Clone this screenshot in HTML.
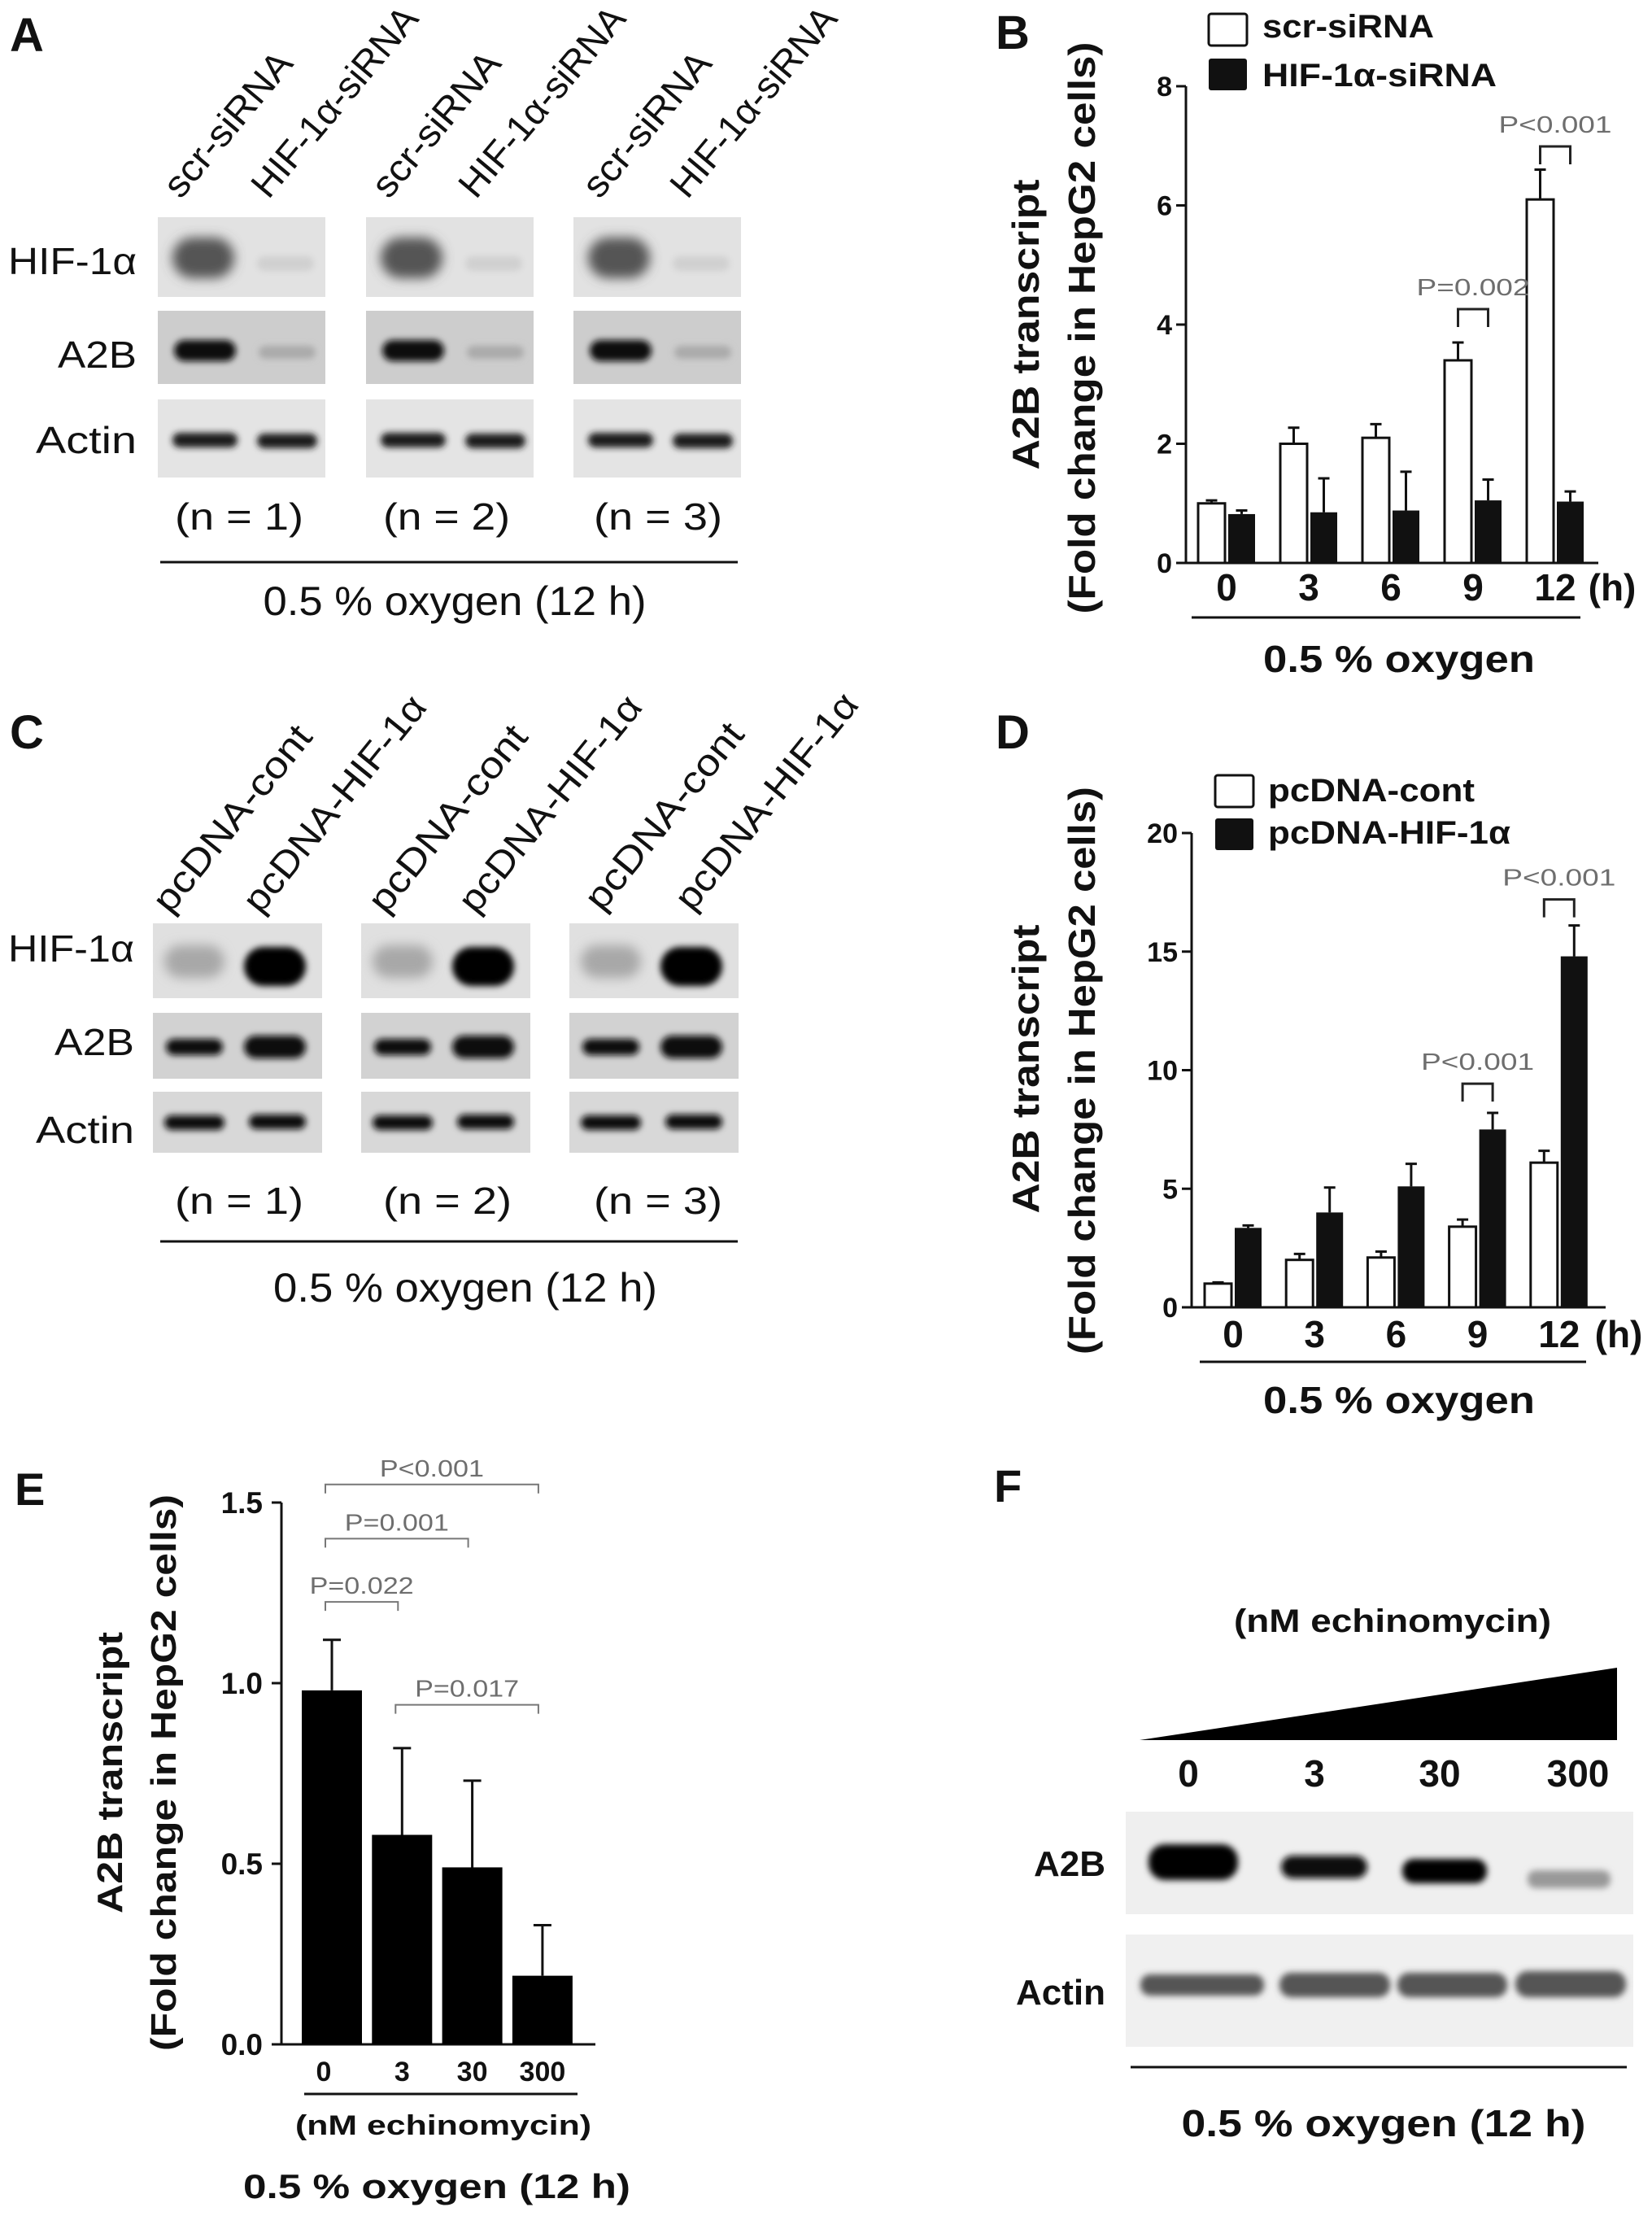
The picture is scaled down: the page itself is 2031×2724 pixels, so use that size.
<!DOCTYPE html>
<html><head><meta charset="utf-8"><style>
html,body{margin:0;padding:0;background:#fff;}
svg{display:block;}
.b{font-family:"Liberation Sans",sans-serif;font-weight:bold;fill:#111;}
.n{font-family:"Liberation Sans",sans-serif;fill:#111;}
.p{font-family:"Liberation Sans",sans-serif;fill:#6e6e6e;font-size:29px;}
</style></head><body>
<svg id="fig" width="2031" height="2724" viewBox="0 0 2031 2724" xmlns="http://www.w3.org/2000/svg">
<defs>
<filter id="bl" x="-30%" y="-60%" width="160%" height="220%"><feGaussianBlur stdDeviation="4"/></filter>
<filter id="bl2" x="-30%" y="-60%" width="160%" height="220%"><feGaussianBlur stdDeviation="7"/></filter>
</defs>

<!-- Panel A -->
<g>
<text class="b" x="12" y="63" font-size="58">A</text>
<g class="n" font-size="46">
<text transform="translate(222,246) rotate(-50)" textLength="218" lengthAdjust="spacingAndGlyphs">scr-siRNA</text>
<text transform="translate(330,246) rotate(-50)" textLength="290" lengthAdjust="spacingAndGlyphs">HIF-1α-siRNA</text>
<text transform="translate(478,246) rotate(-50)" textLength="218" lengthAdjust="spacingAndGlyphs">scr-siRNA</text>
<text transform="translate(585,246) rotate(-50)" textLength="290" lengthAdjust="spacingAndGlyphs">HIF-1α-siRNA</text>
<text transform="translate(737,246) rotate(-50)" textLength="218" lengthAdjust="spacingAndGlyphs">scr-siRNA</text>
<text transform="translate(845,246) rotate(-50)" textLength="290" lengthAdjust="spacingAndGlyphs">HIF-1α-siRNA</text>
</g>
<g class="n" font-size="46" text-anchor="end">
<text x="168" y="337" textLength="158" lengthAdjust="spacingAndGlyphs">HIF-1α</text>
<text x="168" y="452" textLength="97" lengthAdjust="spacingAndGlyphs">A2B</text>
<text x="168" y="557" textLength="124" lengthAdjust="spacingAndGlyphs">Actin</text>
</g>
<g id="blotsA"></g>
<g class="n" font-size="46" text-anchor="middle">
<text x="294" y="651" textLength="158" lengthAdjust="spacingAndGlyphs">(n = 1)</text>
<text x="549" y="651" textLength="156" lengthAdjust="spacingAndGlyphs">(n = 2)</text>
<text x="809" y="651" textLength="158" lengthAdjust="spacingAndGlyphs">(n = 3)</text>
</g>
<line x1="197" y1="691" x2="907" y2="691" stroke="#111" stroke-width="3"/>
<text class="n" x="559" y="756" font-size="50" text-anchor="middle" textLength="471" lengthAdjust="spacingAndGlyphs">0.5 % oxygen (12 h)</text>
</g>

<!-- Panel C -->
<g>
<text class="b" x="12" y="920" font-size="58">C</text>
<g class="n" font-size="46">
<text transform="translate(209,1125) rotate(-51)" textLength="281" lengthAdjust="spacingAndGlyphs">pcDNA-cont</text>
<text transform="translate(320,1125) rotate(-51)" textLength="328" lengthAdjust="spacingAndGlyphs">pcDNA-HIF-1α</text>
<text transform="translate(474,1125) rotate(-51)" textLength="281" lengthAdjust="spacingAndGlyphs">pcDNA-cont</text>
<text transform="translate(585,1125) rotate(-51)" textLength="328" lengthAdjust="spacingAndGlyphs">pcDNA-HIF-1α</text>
<text transform="translate(740,1122) rotate(-51)" textLength="281" lengthAdjust="spacingAndGlyphs">pcDNA-cont</text>
<text transform="translate(851,1122) rotate(-51)" textLength="328" lengthAdjust="spacingAndGlyphs">pcDNA-HIF-1α</text>
</g>
<g class="n" font-size="46" text-anchor="end">
<text x="165" y="1182" textLength="155" lengthAdjust="spacingAndGlyphs">HIF-1α</text>
<text x="165" y="1297" textLength="98" lengthAdjust="spacingAndGlyphs">A2B</text>
<text x="165" y="1405" textLength="121" lengthAdjust="spacingAndGlyphs">Actin</text>
</g>
<g id="blotsC"></g>
<g class="n" font-size="46" text-anchor="middle">
<text x="294" y="1492" textLength="158" lengthAdjust="spacingAndGlyphs">(n = 1)</text>
<text x="550" y="1492" textLength="158" lengthAdjust="spacingAndGlyphs">(n = 2)</text>
<text x="809" y="1492" textLength="158" lengthAdjust="spacingAndGlyphs">(n = 3)</text>
</g>
<line x1="197" y1="1526" x2="907" y2="1526" stroke="#111" stroke-width="3"/>
<text class="n" x="572" y="1600" font-size="50" text-anchor="middle" textLength="472" lengthAdjust="spacingAndGlyphs">0.5 % oxygen (12 h)</text>
</g>

<!-- Panel B -->
<g id="panelB">
<text class="b" x="1224" y="60" font-size="58">B</text>
<rect x="1486" y="17" width="47" height="39" rx="3" fill="#fff" stroke="#111" stroke-width="3"/>
<rect x="1486" y="72" width="47" height="39" rx="3" fill="#111"/>
<text class="b" x="1552" y="46" font-size="40" textLength="211" lengthAdjust="spacingAndGlyphs">scr-siRNA</text>
<text class="b" x="1552" y="106" font-size="40" textLength="288" lengthAdjust="spacingAndGlyphs">HIF-1α-siRNA</text>
<text class="b" font-size="46" text-anchor="middle" transform="translate(1277,399) rotate(-90)" textLength="357" lengthAdjust="spacingAndGlyphs">A2B transcript</text>
<text class="b" font-size="46" text-anchor="middle" transform="translate(1346,403) rotate(-90)" textLength="703" lengthAdjust="spacingAndGlyphs">(Fold change in HepG2 cells)</text>
<line x1="1465" y1="759" x2="1943" y2="759" stroke="#111" stroke-width="3"/>
<text class="b" x="1720" y="826" font-size="46" text-anchor="middle" textLength="334" lengthAdjust="spacingAndGlyphs">0.5 % oxygen</text>
<text class="b" x="1982" y="738" font-size="46" text-anchor="middle">(h)</text>
</g>

<!-- Panel D -->
<g id="panelD">
<text class="b" x="1224" y="920" font-size="58">D</text>
<rect x="1494" y="953" width="47" height="39" rx="3" fill="#fff" stroke="#111" stroke-width="3"/>
<rect x="1494" y="1006" width="47" height="39" rx="3" fill="#111"/>
<text class="b" x="1559" y="985" font-size="40" textLength="254" lengthAdjust="spacingAndGlyphs">pcDNA-cont</text>
<text class="b" x="1559" y="1037" font-size="40" textLength="298" lengthAdjust="spacingAndGlyphs">pcDNA-HIF-1α</text>
<text class="b" font-size="46" text-anchor="middle" transform="translate(1277,1314) rotate(-90)" textLength="355" lengthAdjust="spacingAndGlyphs">A2B transcript</text>
<text class="b" font-size="46" text-anchor="middle" transform="translate(1346,1316) rotate(-90)" textLength="698" lengthAdjust="spacingAndGlyphs">(Fold change in HepG2 cells)</text>
<line x1="1475" y1="1674" x2="1950" y2="1674" stroke="#111" stroke-width="3"/>
<text class="b" x="1720" y="1737" font-size="46" text-anchor="middle" textLength="334" lengthAdjust="spacingAndGlyphs">0.5 % oxygen</text>
<text class="b" x="1990" y="1656" font-size="46" text-anchor="middle">(h)</text>
</g>

<!-- Panel E -->
<g id="panelE">
<text class="b" x="18" y="1850" font-size="56">E</text>
<text class="b" font-size="44" text-anchor="middle" transform="translate(150,2179) rotate(-90)" textLength="346" lengthAdjust="spacingAndGlyphs">A2B transcript</text>
<text class="b" font-size="44" text-anchor="middle" transform="translate(216,2179) rotate(-90)" textLength="684" lengthAdjust="spacingAndGlyphs">(Fold change in HepG2 cells)</text>
<line x1="374" y1="2574" x2="710" y2="2574" stroke="#111" stroke-width="3"/>
<text class="b" x="545" y="2624" font-size="34" text-anchor="middle" textLength="364" lengthAdjust="spacingAndGlyphs">(nM echinomycin)</text>
<text class="b" x="537" y="2702" font-size="42" text-anchor="middle" textLength="476" lengthAdjust="spacingAndGlyphs">0.5 % oxygen (12 h)</text>
</g>

<!-- Panel F -->
<g>
<text class="b" x="1222" y="1846" font-size="56">F</text>
<text class="b" x="1712" y="2006" font-size="40" text-anchor="middle" textLength="390" lengthAdjust="spacingAndGlyphs">(nM echinomycin)</text>
<polygon points="1401,2139 1988,2050 1988,2139" fill="#000"/>
<g class="b" font-size="46" text-anchor="middle">
<text x="1461" y="2196">0</text>
<text x="1616" y="2196">3</text>
<text x="1770" y="2196">30</text>
<text x="1940" y="2196">300</text>
</g>
<text class="b" x="1359" y="2306" font-size="44" text-anchor="end">A2B</text>
<text class="b" x="1359" y="2464" font-size="44" text-anchor="end">Actin</text>
<g>
<rect x="1384" y="2227" width="624" height="126" fill="#efefef"/>
<g filter="url(#bl)">
<rect x="1412" y="2267" width="110" height="44" rx="20" fill="#000"/>
<rect x="1575" y="2281" width="106" height="28" rx="14" fill="#0a0a0a"/>
<rect x="1724" y="2285" width="104" height="30" rx="14" fill="#050505"/>
<rect x="1878" y="2299" width="102" height="22" rx="10" fill="#999"/>
</g></g>
<g>
<rect x="1384" y="2378" width="624" height="138" fill="#f0f0f0"/>
<g filter="url(#bl)" fill="#555">
<rect x="1402" y="2427" width="152" height="26" rx="12"/>
<rect x="1573" y="2425" width="136" height="30" rx="14"/>
<rect x="1718" y="2425" width="135" height="30" rx="14"/>
<rect x="1863" y="2423" width="136" height="32" rx="15"/>
</g></g>
<line x1="1390" y1="2541" x2="2000" y2="2541" stroke="#111" stroke-width="3"/>
<text class="b" x="1701" y="2626" font-size="46" text-anchor="middle" textLength="497" lengthAdjust="spacingAndGlyphs">0.5 % oxygen (12 h)</text>
</g>
</svg>

<script>
// ---- Panel B data ----
const bCategories = ["0", "3", "6", "9", "12"];
const bScr = [1.0, 2.0, 2.1, 3.4, 6.1];
const bScrErr = [0.05, 0.27, 0.23, 0.3, 0.5];
const bHif = [0.82, 0.85, 0.88, 1.05, 1.03];
const bHifErr = [0.06, 0.57, 0.65, 0.35, 0.17];
const bTicks = [0, 2, 4, 6, 8];
const bPvals = ["P=0.002", "P<0.001"];
const bPGroups = [3, 4];
const bPLevel = [4.26, 6.99];
// ---- Panel D data ----
const dCategories = ["0", "3", "6", "9", "12"];
const dCont = [1.0, 2.0, 2.1, 3.4, 6.1];
const dContErr = [0.05, 0.25, 0.25, 0.3, 0.5];
const dHif = [3.35, 4.0, 5.1, 7.5, 14.8];
const dHifErr = [0.1, 1.05, 0.95, 0.7, 1.3];
const dTicks = [0, 5, 10, 15, 20];
const dPvals = ["P<0.001", "P<0.001"];
const dPGroups = [3, 4];
const dPLevel = [9.43, 17.2];
// ---- Panel E data ----
const eCategories = ["0", "3", "30", "300"];
const eValues = [0.98, 0.58, 0.49, 0.19];
const eErr = [0.14, 0.24, 0.24, 0.14];
const eTicks = ["0.0", "0.5", "1.0", "1.5"];
const ePvals = ["P<0.001", "P=0.001", "P=0.022", "P=0.017"];
const ePFrom = [0, 0, 0, 1];
const ePTo = [3, 2, 1, 3];
const ePLevel = [1.55, 1.4, 1.225, 0.94];

const NS = "http://www.w3.org/2000/svg";
function mk(parent, tag, attrs, txt) {
  const e = document.createElementNS(NS, tag);
  for (const k in attrs) e.setAttribute(k, attrs[k]);
  if (txt !== undefined) e.textContent = txt;
  parent.appendChild(e);
  return e;
}

function groupedChart(gId, cfg, cats, s1, e1, s2, e2, ticks, pv, pg, pl, names) {
  const g = document.getElementById(gId);
  const y = v => cfg.y0 - v * cfg.pxPerUnit;
  const xw = i => cfg.x0 + i * cfg.step;
  const ax = mk(g, "line", {x1: cfg.ax, y1: y(ticks[ticks.length-1]), x2: cfg.ax, y2: cfg.y0, stroke: "#111", "stroke-width": 3});
  
  
  const xa = mk(g, "line", {x1: cfg.ax, y1: cfg.y0, x2: cfg.axEnd, y2: cfg.y0, stroke: "#111", "stroke-width": 3});
  
  
  ticks.forEach(t => {
    const tk = mk(g, "line", {x1: cfg.ax - 12, y1: y(t), x2: cfg.ax, y2: y(t), stroke: "#111", "stroke-width": 3});
    
    
    const tl = mk(g, "text", {x: cfg.ax - 17, y: y(t) + 12, "text-anchor": "end", "font-size": 34, class: "b"}, String(t));
    
    
  });
  cats.forEach((c, i) => {
    const xl = xw(i);
    const b1 = mk(g, "rect", {x: xl, y: y(s1[i]), width: cfg.bw, height: cfg.y0 - y(s1[i]), fill: "#fff", stroke: "#111", "stroke-width": 3});
    
    
    const b2 = mk(g, "rect", {x: xl + cfg.off, y: y(s2[i]), width: cfg.bw, height: cfg.y0 - y(s2[i]), fill: "#111"});
    
    
    [[xl, s1[i], e1[i]], [xl + cfg.off, s2[i], e2[i]]].forEach(([bx, v, e]) => {
      const cx = bx + cfg.bw / 2;
      const el = mk(g, "path", {d: `M${cx},${y(v)} V${y(v + e)} M${cx - 7},${y(v + e)} H${cx + 7}`, stroke: "#111", "stroke-width": 3, fill: "none"});
      
      
    });
    const lab = mk(g, "text", {x: xl + (cfg.off + cfg.bw) / 2, y: cfg.labY, "text-anchor": "middle", "font-size": 46, class: "b"}, c);
    
    
  });
  pg.forEach((gi, k) => {
    const xl = xw(gi) + cfg.bw / 2, xr = xw(gi) + cfg.off + cfg.bw / 2;
    const top = y(pl[k]);
    const br = mk(g, "path", {d: `M${xl},${top + 22} V${top} H${xr} V${top + 22}`, stroke: "#222", "stroke-width": 3, fill: "none"});
    
    
    const pt = mk(g, "text", {x: (xl + xr) / 2, y: top - 17, "text-anchor": "middle", class: "p", textLength: 139, lengthAdjust: "spacingAndGlyphs"}, pv[k]);
    
    
  });
}

groupedChart("panelB", {x0: 1473, step: 101, bw: 33, off: 37, y0: 692, pxPerUnit: 73.25, ax: 1458, axEnd: 1965, labY: 738},
  bCategories, bScr, bScrErr, bHif, bHifErr, bTicks, bPvals, bPGroups, bPLevel, ["scr", "hif"]);
groupedChart("panelD", {x0: 1481, step: 100.2, bw: 33, off: 37, y0: 1607, pxPerUnit: 29.15, ax: 1465, axEnd: 1974, labY: 1656},
  dCategories, dCont, dContErr, dHif, dHifErr, dTicks, dPvals, dPGroups, dPLevel, ["cont", "hif"]);

// Panel E
(function () {
  const g = document.getElementById("panelE");
  const y0 = 2513, ppu = 444, ax = 346, x0 = 371, step = 86.3, bw = 74;
  const y = v => y0 - v * ppu;
  const xc = i => x0 + i * step + bw / 2;
  const a1 = mk(g, "line", {x1: ax, y1: y(1.5), x2: ax, y2: y0, stroke: "#111", "stroke-width": 3});
  
  
  const a2 = mk(g, "line", {x1: ax, y1: y0, x2: 732, y2: y0, stroke: "#111", "stroke-width": 3});
  
  
  eTicks.forEach(t => {
    const v = parseFloat(t);
    const tk = mk(g, "line", {x1: ax - 12, y1: y(v), x2: ax, y2: y(v), stroke: "#111", "stroke-width": 3});
    
    
    const tl = mk(g, "text", {x: 323, y: y(v) + 13, "text-anchor": "end", "font-size": 37, class: "b"}, t);
    
    
  });
  eCategories.forEach((c, i) => {
    const r = mk(g, "rect", {x: x0 + i * step, y: y(eValues[i]), width: bw, height: y0 - y(eValues[i]), fill: "#000"});
    
    
    const cx = xc(i), top = y(eValues[i] + eErr[i]);
    const eb = mk(g, "path", {d: `M${cx},${y(eValues[i])} V${top} M${cx - 11},${top} H${cx + 11}`, stroke: "#111", "stroke-width": 3, fill: "none"});
    
    
    const lab = mk(g, "text", {x: cx + (i === 0 ? -10 : 0), y: 2558, "text-anchor": "middle", "font-size": 34, class: "b"}, c);
    
    
  });
  ePvals.forEach((p, k) => {
    const xl = xc(ePFrom[k]) - 8, xr = xc(ePTo[k]) - 5, top = y(ePLevel[k]);
    const br = mk(g, "path", {d: `M${xl},${top + 11} V${top} H${xr} V${top + 11}`, stroke: "#777", "stroke-width": 2, fill: "none"});
    
    
    const t = mk(g, "text", {x: (xl + xr) / 2, y: top - 10, "text-anchor": "middle", class: "p", "font-size": 28, textLength: 128, lengthAdjust: "spacingAndGlyphs"}, p);
    
    
  });
})();

// Western blots A and C
function blot(gId, cols, width, rows) {
  const g = document.getElementById(gId);
  cols.forEach((cx, ci) => {
    rows.forEach(r => {
      const bg = mk(g, "rect", {x: cx, y: r.y, width: width, height: r.h, fill: r.bg});
      
      
      r.bands.forEach((b, li) => {
        const bd = mk(g, "rect", {x: cx + b.x, y: b.y, width: b.w, height: b.h, rx: b.h / 2, fill: b.c, filter: b.f || "url(#bl)"});
        
        
      });
    });
  });
}
blot("blotsA", [194, 450, 705], 206, [
  {name: "hif", y: 267, h: 98, bg: "#e2e2e2", bands: [{x: 18, y: 292, w: 76, h: 50, c: "#555", f: "url(#bl2)"}, {x: 122, y: 315, w: 70, h: 18, c: "#d0d0d0"}]},
  {name: "a2b", y: 382, h: 90, bg: "#cdcdcd", bands: [{x: 20, y: 418, w: 76, h: 26, c: "#111"}, {x: 124, y: 425, w: 70, h: 16, c: "#aaa"}]},
  {name: "actin", y: 491, h: 96, bg: "#e4e4e4", bands: [{x: 18, y: 532, w: 80, h: 18, c: "#1a1a1a"}, {x: 122, y: 533, w: 74, h: 18, c: "#1a1a1a"}]}
]);
blot("blotsC", [188, 444, 700], 208, [
  {name: "hif", y: 1135, h: 92, bg: "#e0e0e0", bands: [{x: 14, y: 1162, w: 74, h: 40, c: "#a8a8a8", f: "url(#bl2)"}, {x: 112, y: 1164, w: 76, h: 48, c: "#000"}]},
  {name: "a2b", y: 1245, h: 81, bg: "#d2d2d2", bands: [{x: 16, y: 1277, w: 70, h: 20, c: "#111"}, {x: 112, y: 1273, w: 76, h: 28, c: "#0a0a0a"}]},
  {name: "actin", y: 1342, h: 75, bg: "#d8d8d8", bands: [{x: 14, y: 1371, w: 74, h: 18, c: "#111"}, {x: 118, y: 1370, w: 70, h: 18, c: "#111"}]}
]);
</script>
</body></html>
